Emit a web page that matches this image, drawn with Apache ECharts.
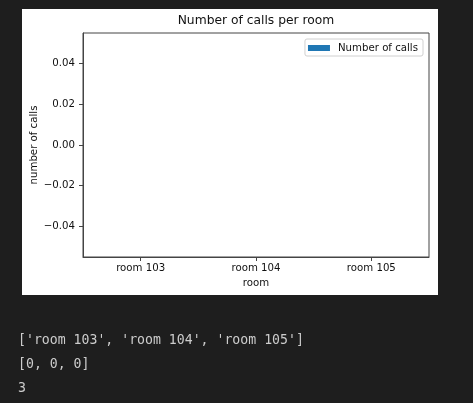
<!DOCTYPE html>
<html>
<head>
<meta charset="utf-8">
<script src="https://cdn.jsdelivr.net/npm/echarts@6/dist/echarts.min.js"></script>
<style>
  html, body { margin: 0; padding: 0; background: #1e1e1e; }
  #main { width: 473px; height: 403px; }
</style>
</head>
<body>
<div id="main"></div>
<script>
// data
var rooms = ['room 103', 'room 104', 'room 105'];
var calls = [0, 0, 0];
var yTicks = [-0.04, -0.02, 0, 0.02, 0.04];

// what the notebook printed under the figure
var printed = [
    '[' + rooms.map(function (r) { return "'" + r + "'"; }).join(', ') + ']',
    '[' + calls.join(', ') + ']',
    String(rooms.length)
];

var myChart = echarts.init(document.getElementById('main'));
var fontFam = 'DejaVu Sans';
var frameColor = '#444';

var option = {
    backgroundColor: '#1e1e1e',
    animation: false,
    title: {
        text: 'Number of calls per room',
        left: 256,
        textAlign: 'center',
        top: 15,
        padding: 0,
        textStyle: { fontFamily: fontFam, fontSize: 12.3, fontWeight: 'normal', color: '#111' }
    },
    legend: {
        data: ['Number of calls'],
        right: 50,
        top: 39,
        icon: 'rect',
        itemWidth: 22,
        itemHeight: 6,
        padding: [4, 5, 3, 3],
        borderColor: '#d0d0d0',
        borderWidth: 1,
        borderRadius: 2,
        textStyle: { fontFamily: fontFam, fontSize: 10.2, color: '#111', padding: [0, 0, 0, 3] }
    },
    grid: {
        left: 83, top: 33, width: 346, height: 224,
        show: true,
        backgroundColor: '#fff',
        borderColor: frameColor,
        borderWidth: 1
    },
    xAxis: {
        type: 'category',
        data: rooms,
        name: 'room',
        nameLocation: 'middle',
        nameGap: 21,
        nameMoveOverlap: false,
        nameTextStyle: { fontFamily: fontFam, fontSize: 10.2, color: '#111' },
        axisLine: { show: true, onZero: false, lineStyle: { color: frameColor } },
        axisTick: { show: true, alignWithLabel: true, length: 4, lineStyle: { color: frameColor } },
        axisLabel: { margin: 6, fontFamily: fontFam, fontSize: 10.2, color: '#111' },
        splitLine: { show: false }
    },
    yAxis: {
        type: 'value',
        min: -0.055,
        max: 0.055,
        name: 'number of calls',
        nameLocation: 'middle',
        nameRotate: 90,
        nameGap: 44,
        nameMoveOverlap: false,
        nameTextStyle: { fontFamily: fontFam, fontSize: 10.2, color: '#111' },
        axisLine: { show: true, lineStyle: { color: frameColor } },
        axisTick: { show: true, length: 4, customValues: yTicks, lineStyle: { color: frameColor } },
        axisLabel: {
            margin: 8,
            customValues: yTicks,
            fontFamily: fontFam, fontSize: 10.2, color: '#111',
            formatter: function (v) { return v.toFixed(2).replace('-', '\u2212'); }
        },
        splitLine: { show: false }
    },
    series: [{
        name: 'Number of calls',
        type: 'bar',
        data: calls,
        barWidth: '80%',
        itemStyle: { color: '#1f77b4' }
    }],
    graphic: [
        {
            type: 'rect', z: -10, silent: true,
            shape: { x: 22, y: 9, width: 416, height: 286 },
            style: { fill: '#fff' }
        }
    ].concat(printed.map(function (line, i) {
        return {
            type: 'text', left: 18, top: 334 + i * 24,
            style: {
                text: line,
                fontFamily: 'DejaVu Sans Mono',
                fontSize: 13.2,
                fill: '#cccccc'
            }
        };
    }))
};

myChart.setOption(option);
</script>
</body>
</html>
